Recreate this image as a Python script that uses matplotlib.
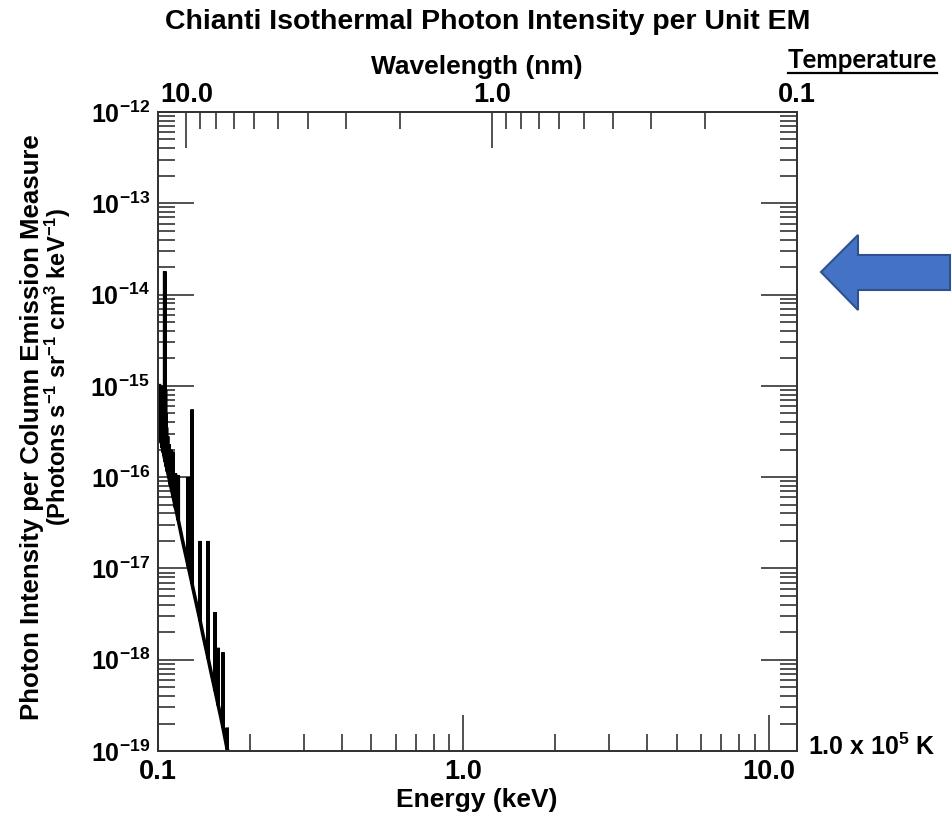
import numpy as np
import matplotlib.pyplot as plt
from matplotlib.patches import Polygon
from matplotlib.lines import Line2D
from matplotlib.ticker import FixedLocator, FixedFormatter, NullFormatter

plt.rcParams['font.family'] = 'Liberation Sans'
plt.rcParams['font.weight'] = 'bold'
plt.rcParams['mathtext.fontset'] = 'custom'
plt.rcParams['mathtext.rm'] = 'Liberation Sans:bold'
plt.rcParams['mathtext.it'] = 'Liberation Sans:bold'
plt.rcParams['mathtext.bf'] = 'Liberation Sans:bold'

# free-free / free-bound continuum (keV, photons s-1 sr-1 cm3 keV-1)
cont_energy = [0.1000, 0.1060, 0.1120, 0.1200, 0.1300, 0.1400, 0.1500, 0.1600, 0.1700]
cont_flux = [3.5e-16, 1.4e-16, 6.2e-17, 2.1e-17, 6.2e-18, 1.95e-18, 6.7e-19, 2.5e-19, 9.8e-20]

# emission lines sitting on the continuum
line_energy = [0.1002, 0.1006, 0.1010, 0.1014, 0.1018, 0.1022, 0.1026, 0.1030, 0.1034,
               0.1038, 0.1042, 0.1047, 0.1052, 0.1058, 0.1062, 0.1066, 0.1075, 0.1085,
               0.1100, 0.1120, 0.1140, 0.1165, 0.1255, 0.1293, 0.1373, 0.1458,
               0.1538, 0.1574, 0.1633, 0.1685]
line_base = [3.43e-16, 3.2e-16, 3.05e-16, 2.85e-16, 2.7e-16, 2.55e-16, 2.4e-16, 2.25e-16, 2.1e-16,
             2.0e-16, 1.87e-16, 1.75e-16, 1.6e-16, 1.48e-16, 1.4e-16, 1.31e-16, 1.15e-16, 1.0e-16,
             8.1e-17, 6.2e-17, 4.7e-17, 3.4e-17, 1.07e-17, 6.8e-18, 2.7e-18, 1.05e-18,
             4.6e-19, 3.2e-19, 1.8e-19, 1.05e-19]
line_peak = [1.0e-15, 9.5e-16, 1.05e-15, 9.0e-16, 9.5e-16, 1.0e-15, 1.0e-15, 8.5e-16, 9.0e-16,
             8.5e-16, 8.0e-16, 7.0e-16, 1.8e-14, 9.0e-16, 5.0e-16, 3.5e-16, 2.8e-16, 2.3e-16,
             2.0e-16, 1.9e-16, 1.1e-16, 1.05e-16, 1.0e-16, 5.5e-16, 2.0e-17, 2.0e-17,
             3.3e-18, 1.35e-18, 1.2e-18, 1.8e-19]

y_decades = [1e-19, 1e-18, 1e-17, 1e-16, 1e-15, 1e-14, 1e-13, 1e-12]
y_labels = [r'$10^{-19}$', r'$10^{-18}$', r'$10^{-17}$', r'$10^{-16}$',
            r'$10^{-15}$', r'$10^{-14}$', r'$10^{-13}$', r'$10^{-12}$']
energy_ticks = [0.1, 1.0, 10.0]
energy_labels = ['0.1', '1.0', '10.0']
wave_ticks = [10.0, 1.0, 0.1]
wave_labels = ['10.0', '1.0', '0.1']
hc = 1.23984  # keV nm

# merge continuum and lines into one trace
pts = list(zip(cont_energy, cont_flux))
for e, b, p in zip(line_energy, line_base, line_peak):
    pts += [(e, b), (e, p), (e, b)]
pts.sort(key=lambda t: t[0])
energy = [p[0] for p in pts]
flux = [p[1] for p in pts]

fig = plt.figure(figsize=(9.53, 8.17), dpi=100)
W, H = 953, 817
ax = fig.add_axes([158 / W, 1 - 751 / H, (797 - 158) / W, (751 - 112) / H])

ax.plot(energy, flux, color='black', lw=2.6, solid_joinstyle='miter')
ax.set_xscale('log')
ax.set_yscale('log')
ax.set_xlim(0.1, hc / 0.1)
ax.set_ylim(1e-19, 1e-12)

minor_e = [m * d for d in (0.1, 1.0) for m in range(2, 10)]
ax.xaxis.set_major_locator(FixedLocator(energy_ticks))
ax.xaxis.set_major_formatter(FixedFormatter(energy_labels))
ax.xaxis.set_minor_locator(FixedLocator(minor_e))
ax.xaxis.set_minor_formatter(NullFormatter())

minor_y = [m * d for d in y_decades[:-1] for m in range(2, 10)]
ax.yaxis.set_major_locator(FixedLocator(y_decades))
ax.yaxis.set_major_formatter(FixedFormatter(y_labels))
ax.yaxis.set_minor_locator(FixedLocator(minor_y))
ax.yaxis.set_minor_formatter(NullFormatter())

edge = '#333333'
ax.tick_params(which='both', direction='in', top=False, right=True, colors=edge, width=1.2)
ax.tick_params(which='major', length=26, labelcolor='black', pad=6)
ax.tick_params(axis='x', which='major', labelsize=19.5)
ax.tick_params(axis='y', which='major', labelsize=18)
ax.tick_params(which='minor', length=12)
for s in ax.spines.values():
    s.set_color(edge)
    s.set_linewidth(1.3)

# wavelength axis on top
ax2 = ax.twiny()
ax2.set_xscale('log')
ax2.set_xlim(hc / 0.1, 0.1)
minor_w = [m * d for d in (0.1, 1.0) for m in range(2, 10)]
ax2.xaxis.set_major_locator(FixedLocator(wave_ticks))
ax2.xaxis.set_major_formatter(FixedFormatter(wave_labels))
ax2.xaxis.set_minor_locator(FixedLocator(minor_w))
ax2.xaxis.set_minor_formatter(NullFormatter())
ax2.tick_params(which='both', direction='in', colors=edge, width=1.2)
ax2.tick_params(which='major', length=26, labelsize=19.5, labelcolor='black', pad=3)
ax2.tick_params(which='minor', length=12)
for s in ax2.spines.values():
    s.set_color(edge)
    s.set_linewidth(1.3)

fig.text(488 / W, 1 - 22 / H, 'Chianti Isothermal Photon Intensity per Unit EM',
         ha='center', va='center', fontsize=20.5)
fig.text(477 / W, 1 - 67 / H, 'Wavelength (nm)', ha='center', va='center', fontsize=19)
fig.text(477 / W, 1 - 800 / H, 'Energy (keV)', ha='center', va='center', fontsize=19)
fig.text(32 / W, 1 - 427 / H, 'Photon Intensity per Column Emission Measure',
         ha='center', va='center', rotation=90, fontsize=18.5)
fig.text(58 / W, 1 - 367 / H,
         r'(Photons s$^{-1}$ sr$^{-1}$ cm$^{3}$ keV$^{-1}$)',
         ha='center', va='center', rotation=90, fontsize=17)

fig.text(872 / W, 1 - 747 / H, r'1.0 x 10$^{5}$ K', ha='center', va='center', fontsize=18)

temp = fig.text(937 / W, 1 - 60 / H, 'Temperature', ha='right', va='center',
                fontsize=18.5, family='Lato', fontweight='bold')
fig.canvas.draw()
bb = temp.get_window_extent().transformed(fig.transFigure.inverted())
fig.add_artist(Line2D([bb.x0, bb.x1], [1 - 73 / H, 1 - 73 / H], color='black', lw=1.6,
                      transform=fig.transFigure))

# block arrow pointing at the chart
arrow_px = [(821, 272), (858, 235), (858, 255), (950, 255), (950, 290), (858, 290), (858, 310)]
arrow = Polygon([(x / W, 1 - y / H) for x, y in arrow_px], closed=True,
                facecolor='#4472C4', edgecolor='#2F528F', lw=1.5, transform=fig.transFigure)
fig.add_artist(arrow)

fig.savefig('out.png', dpi=100)
